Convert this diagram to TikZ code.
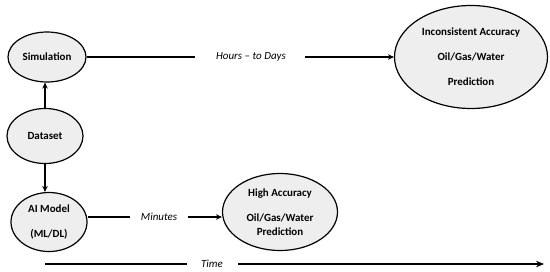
\documentclass[tikz,border=0pt]{standalone}
\usepackage{fontspec}
\setmainfont{Carlito}
\usetikzlibrary{shapes.geometric,arrows.meta}
\begin{document}
\begin{tikzpicture}[x=1bp,y=-1bp,
  oval/.style={ellipse,draw=black,line width=1.2bp,fill=gray!13,inner sep=0pt,
    font=\bfseries\fontsize{11}{13}\selectfont,align=center},
  conn/.style={line width=1.2bp},
  arr/.style={conn,-{Stealth[length=6bp,width=5.5bp]}},
  lbl/.style={font=\itshape\fontsize{11}{13}\selectfont,inner sep=0pt}]
\useasboundingbox (0,0) rectangle (550,271);
% ovals
\node[oval,minimum width=78bp,minimum height=50bp] (sim) at (47,57) {Simulation};
\node[oval,minimum width=76bp,minimum height=55bp] (data) at (45,136) {Dataset};
\node[oval,minimum width=76bp,minimum height=59bp] (ai) at (49,222) {AI Model\\[12bp](ML/DL)};
\node[oval,minimum width=153bp,minimum height=103bp] (big) at (471,57)
  {Inconsistent Accuracy\\[12bp]Oil/Gas/Water\\[12bp]Prediction};
\node[oval,minimum width=115bp,minimum height=77bp] (high) at (280,212)
  {High Accuracy\\[12bp]Oil/Gas/Water\\[1bp]Prediction};
% vertical arrows
\draw[arr] (data.north) -- (data.north |- sim.south);
\draw[arr] (data.south) -- (ai.north -| data.south);
% hours to days
\coordinate (h1) at (195,57);
\coordinate (h2) at (305,57);
\node[lbl] (hours) at (251,57) {Hours -- to Days};
\draw[conn] (sim.east) -- (h1);
\draw[arr] (h2) -- (big.west);
% minutes
\coordinate (m1) at (130,217);
\coordinate (m2) at (188,217);
\node[lbl] (min) at (159,217) {Minutes};
\draw[conn] (ai.east |- m1) -- (m1);
\draw[arr] (m2) -- (m2 -| high.west);
% time
\coordinate (t0) at (45,264);
\coordinate (t1) at (187,264);
\coordinate (t2) at (238,264);
\coordinate (t3) at (544,264);
\node[lbl] (time) at (212,264) {Time};
\draw[conn] (t0) -- (t1);
\draw[conn,-{Stealth[length=8bp,width=6.5bp]}] (t2) -- (t3);
\end{tikzpicture}
\end{document}
